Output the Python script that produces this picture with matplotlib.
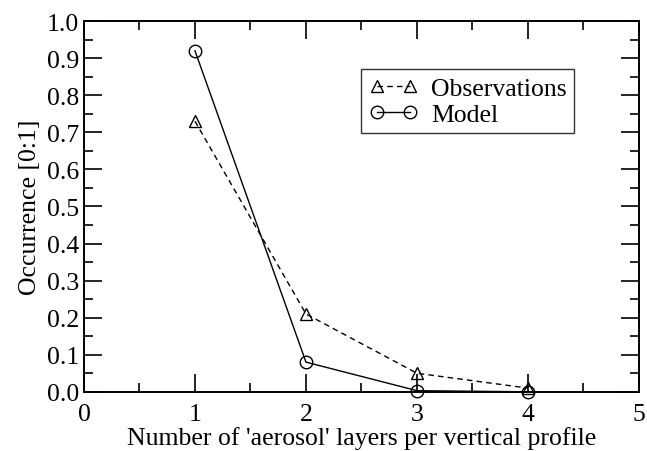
import numpy as np
import matplotlib
matplotlib.use("Agg")
import matplotlib.pyplot as plt
from matplotlib.ticker import MultipleLocator, FormatStrFormatter

plt.rcParams['font.family'] = ['Liberation Serif', 'DejaVu Serif']

layers = [1, 2, 3, 4]
obs = [0.73, 0.21, 0.05, 0.01]
model = [0.92, 0.08, 0.003, 0.0]

fig = plt.figure(figsize=(6.47, 4.52), dpi=100)
ax = fig.add_axes([0.1298, 0.131, 0.8578, 0.82])

ax.plot(layers, obs, color='black', lw=1, ls=(0, (4, 3)), marker='^',
        ms=9, mfc='none', mec='black', mew=1, label='Observations', clip_on=False)
ax.plot(layers, model, color='black', lw=1, ls='-', marker='o',
        ms=9, mfc='none', mec='black', mew=1, label='Model', clip_on=False)

ax.set_xlim(0, 5)
ax.set_ylim(0, 1.0)
ax.xaxis.set_major_locator(MultipleLocator(1))
ax.xaxis.set_minor_locator(MultipleLocator(0.5))
ax.yaxis.set_major_locator(MultipleLocator(0.1))
ax.yaxis.set_minor_locator(MultipleLocator(0.05))
ax.yaxis.set_major_formatter(FormatStrFormatter('%.1f'))
ax.tick_params(which='both', direction='in', top=True, right=True, labelsize=18.5, width=1.2)
ax.tick_params(which='major', length=13)
ax.tick_params(which='minor', length=6.5)
ax.tick_params(axis='x', pad=8)
for s in ax.spines.values():
    s.set_linewidth(1.4)

ax.set_xlabel("Number of 'aerosol' layers per vertical profile", fontsize=18.5, labelpad=1)
ax.set_ylabel("Occurrence [0:1]", fontsize=18.5, labelpad=4)

leg = ax.legend(loc='upper left', bbox_to_anchor=(0.5, 0.87), fontsize=18.5,
                frameon=True, fancybox=False, edgecolor='black', numpoints=2,
                handlelength=1.9, handletextpad=0.5, borderpad=0.3,
                labelspacing=0.1, borderaxespad=0)
leg.get_frame().set_linewidth(1)

fig.savefig('out.png', dpi=100)
